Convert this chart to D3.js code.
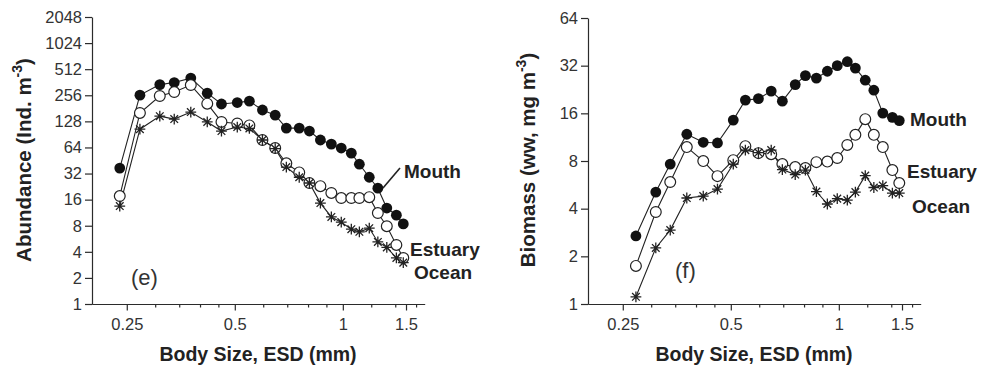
<!DOCTYPE html>
<html>
<head>
<meta charset="utf-8">
<script src="https://cdn.jsdelivr.net/npm/d3@7"></script>
<style>
  body { margin: 0; background: #fff; }
  svg { display: block; font-family: "Liberation Sans", Arial, sans-serif; }
  .axis path, .axis line { stroke: #2b2b2b; stroke-width: 1.2; }
  .axis text { fill: #333; font-size: 16.5px; }
</style>
</head>
<body>
<div id="chart"></div>
<script>
// body size bins (ESD, mm)
var sizes = [0.239, 0.272, 0.309, 0.339, 0.377, 0.419, 0.459, 0.508, 0.549, 0.597, 0.648, 0.696,
  0.756, 0.807, 0.866, 0.929, 0.990, 1.056, 1.112, 1.185, 1.252, 1.326, 1.41, 1.474]

// panel (e) abundance, Ind. m-3
var abundMouth = [37, 257, 340, 359, 404, 271, 203, 211, 219, 173, 151, 107, 107, 99, 78, 70, 63, 55, 41, 29, 21.7, 12.8, 10.6, 8.4]
var abundEstuary = [17.6, 160, 251, 279, 336, 205, 126, 121, 115, 78, 63, 42, 33, 24.9, 22.9, 19.1, 16.7, 16.7, 16.7, 17.1, 11.2, 7.9, 4.8, 3.4]
var abundOcean = [13.5, 104, 147, 136, 164, 126, 99, 110, 106, 78, 62, 38, 29, 24.9, 14.6, 10.1, 8.8, 7.3, 6.8, 7.5, 5.2, 4.5, 3.4, 3.0]

// panel (f) biomass, ww mg m-3 (starts at the second size bin)
var biomassMouth = [2.69, 5.09, 7.65, 11.8, 10.5, 10.4, 14.5, 19.4, 19.8, 22.1, 19.1, 24.3, 27.7, 26.7, 29.5, 32, 33.9, 30.9, 25.9, 22.4, 16.05, 15.1, 14.4]
var biomassEstuary = [1.74, 3.81, 5.89, 9.79, 7.99, 6.42, 8.1, 9.93, 8.97, 8.84, 7.65, 7.32, 7.22, 7.87, 7.93, 8.35, 10.1, 11.7, 14.7, 11.7, 9.79, 7.01, 5.8]
var biomassOcean = [1.11, 2.26, 2.93, 4.67, 4.80, 5.32, 7.65, 9.37, 9.04, 9.37, 7.06, 6.57, 7.01, 5.13, 4.28, 4.63, 4.53, 5.09, 6.47, 5.44, 5.60, 5.02, 5.02]

var xMajorTicks = [0.25, 0.5, 1, 1.5]
var xMinorTicks = [0.3, 0.35, 0.4, 0.45, 0.6, 0.7, 0.8, 0.9, 1.2, 1.4, 1.6]
var abundTicks = [1, 2, 4, 8, 16, 32, 64, 128, 256, 512, 1024, 2048]
var biomassTicks = [1, 2, 4, 8, 16, 32, 64]
var seriesNames = ['Mouth', 'Estuary', 'Ocean']

var W = 992, H = 366
var ink = '#222'

var svg = d3.select('#chart').append('svg')
  .attr('width', W)
  .attr('height', H)

// 8-armed asterisk marker
function starPath(r) {
  var d = r * Math.SQRT1_2
  return 'M0,' + (-r) + 'V' + r + 'M' + (-r) + ',0H' + r +
    'M' + (-d) + ',' + (-d) + 'L' + d + ',' + d + 'M' + (-d) + ',' + d + 'L' + d + ',' + (-d)
}

function drawPanel(opt) {
  var g = svg.append('g')
  var x = d3.scaleLog().domain([0.2, 1.69]).range([opt.left, opt.left + 332.6])
  var y = d3.scaleLog().base(2).domain(opt.yDomain).range([304, opt.top])

  // axes
  g.append('g').attr('class', 'axis')
    .attr('transform', 'translate(' + opt.left + ',0)')
    .call(d3.axisLeft(y).tickValues(opt.yTicks).tickFormat(d3.format('d'))
      .tickSize(7).tickPadding(3).tickSizeOuter(0))

  g.append('g').attr('class', 'axis')
    .attr('transform', 'translate(0,304)')
    .call(d3.axisBottom(x).tickValues(xMinorTicks).tickFormat('')
      .tickSize(3.5).tickSizeOuter(0))

  g.append('g').attr('class', 'axis')
    .attr('transform', 'translate(0,304)')
    .call(d3.axisBottom(x).tickValues(xMajorTicks).tickFormat(function(d) { return String(d) })
      .tickSize(6.5).tickPadding(8).tickSizeOuter(0))

  // lines
  var line = d3.line()
    .x(function(d) { return x(d[0]) })
    .y(function(d) { return y(d[1]) })

  var series = opt.values.map(function(vals) {
    return vals.map(function(v, i) { return [opt.sizes[i], v] })
  })

  series.forEach(function(s) {
    g.append('path').datum(s)
      .attr('d', line)
      .attr('fill', 'none')
      .attr('stroke', ink)
      .attr('stroke-width', 1.1)
  })

  // markers: Mouth filled, Estuary open, Ocean asterisk
  g.append('g').selectAll('circle').data(series[0]).enter().append('circle')
    .attr('cx', function(d) { return x(d[0]) })
    .attr('cy', function(d) { return y(d[1]) })
    .attr('r', 5.4)
    .attr('fill', '#111')

  g.append('g').selectAll('circle').data(series[1]).enter().append('circle')
    .attr('cx', function(d) { return x(d[0]) })
    .attr('cy', function(d) { return y(d[1]) })
    .attr('r', 5.4)
    .attr('fill', '#fff')
    .attr('stroke', ink)
    .attr('stroke-width', 1.2)

  g.append('g').selectAll('path').data(series[2]).enter().append('path')
    .attr('transform', function(d) { return 'translate(' + x(d[0]) + ',' + y(d[1]) + ')' })
    .attr('d', starPath(5.4))
    .attr('fill', 'none')
    .attr('stroke', ink)
    .attr('stroke-width', 1.3)

  // series labels
  seriesNames.forEach(function(name, i) {
    g.append('text')
      .attr('x', opt.labels[i][0])
      .attr('y', opt.labels[i][1])
      .attr('font-size', 19)
      .attr('font-weight', 'bold')
      .attr('fill', ink)
      .text(name)
  })
  if (opt.leader) {
    g.append('line')
      .attr('x1', opt.leader[0]).attr('y1', opt.leader[1])
      .attr('x2', opt.leader[2]).attr('y2', opt.leader[3])
      .attr('stroke', ink).attr('stroke-width', 1.6)
  }

  // panel letter
  g.append('text')
    .attr('x', opt.letter[0])
    .attr('y', opt.letter[1])
    .attr('font-size', 22)
    .attr('fill', '#333')
    .text(opt.letterText)

  // axis titles
  g.append('text')
    .attr('x', opt.left + 166)
    .attr('y', 361)
    .attr('text-anchor', 'middle')
    .attr('font-size', 19.5)
    .attr('font-weight', 'bold')
    .attr('fill', ink)
    .text('Body Size, ESD (mm)')

  var yt = g.append('text')
    .attr('transform', 'translate(' + opt.yTitleX + ',160) rotate(-90)')
    .attr('text-anchor', 'middle')
    .attr('font-size', 20.5)
    .attr('font-weight', 'bold')
    .attr('fill', ink)
  yt.append('tspan').text(opt.yTitle)
  yt.append('tspan').attr('dy', -9).attr('font-size', 14).text('-3')
  yt.append('tspan').attr('dy', 9).text(')')
}

drawPanel({
  left: 92, top: 17,
  yDomain: [1, 2048], yTicks: abundTicks,
  sizes: sizes,
  values: [abundMouth, abundEstuary, abundOcean],
  labels: [[404, 178], [410, 256], [414, 279]],
  leader: [383, 188, 400, 168],
  letter: [131, 285], letterText: '(e)',
  yTitleX: 31, yTitle: 'Abundance (Ind. m'
})

drawPanel({
  left: 588, top: 18,
  yDomain: [1, 64], yTicks: biomassTicks,
  sizes: sizes.slice(1),
  values: [biomassMouth, biomassEstuary, biomassOcean],
  labels: [[910, 126], [907, 178], [912, 213]],
  leader: null,
  letter: [675, 278], letterText: '(f)',
  yTitleX: 535, yTitle: 'Biomass (ww, mg m'
})
</script>
</body>
</html>
